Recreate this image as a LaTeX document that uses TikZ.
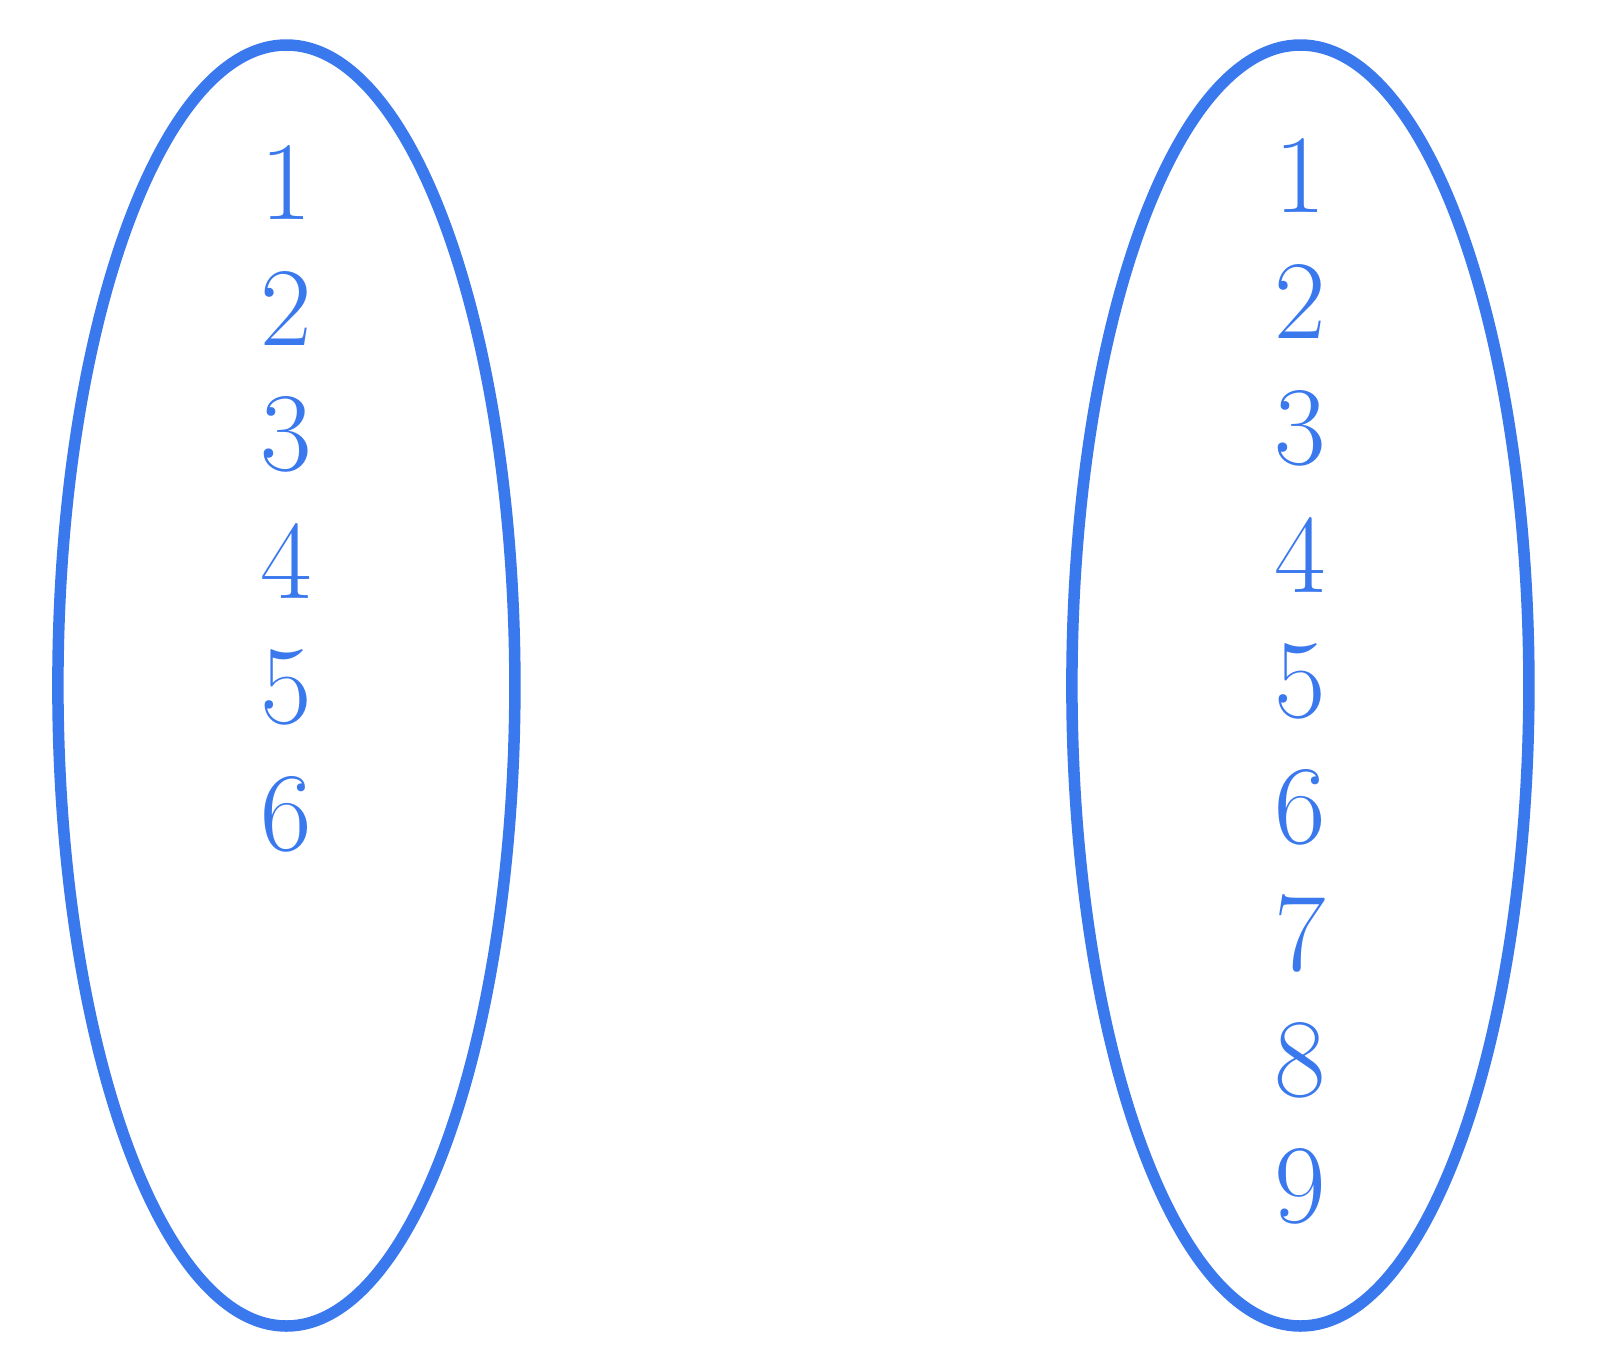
\documentclass[tikz,border=0pt]{standalone}
\usepackage{amsmath}
\usepackage{tikz}
\usetikzlibrary{shapes.geometric}
\definecolor{setblue}{HTML}{3A78EE}

\begin{document}
\begin{tikzpicture}[x=1pt,y=-1pt,
		setel/.style={ellipse,draw=setblue,line width=11.5pt,inner sep=0pt,minimum width=457pt,minimum height=1281pt},
		num/.style={text=setblue,inner sep=0pt,font=\fontsize{112}{112}\selectfont}]
		\useasboundingbox (0,0) rectangle (1600,1361);
		\node[setel] (A) at (286.4,685.5) {};
		\node[setel] (B) at (1300.4,685.5) {};
		\foreach \i in {1,...,6}
			\node[num] (a\i) at (286,{182+126.4*(\i-1)}) {\i};
		\foreach \i in {1,...,9}
			\node[num] (b\i) at (1300,{175.5+126.4*(\i-1)}) {\i};
	\end{tikzpicture}
\end{document}
